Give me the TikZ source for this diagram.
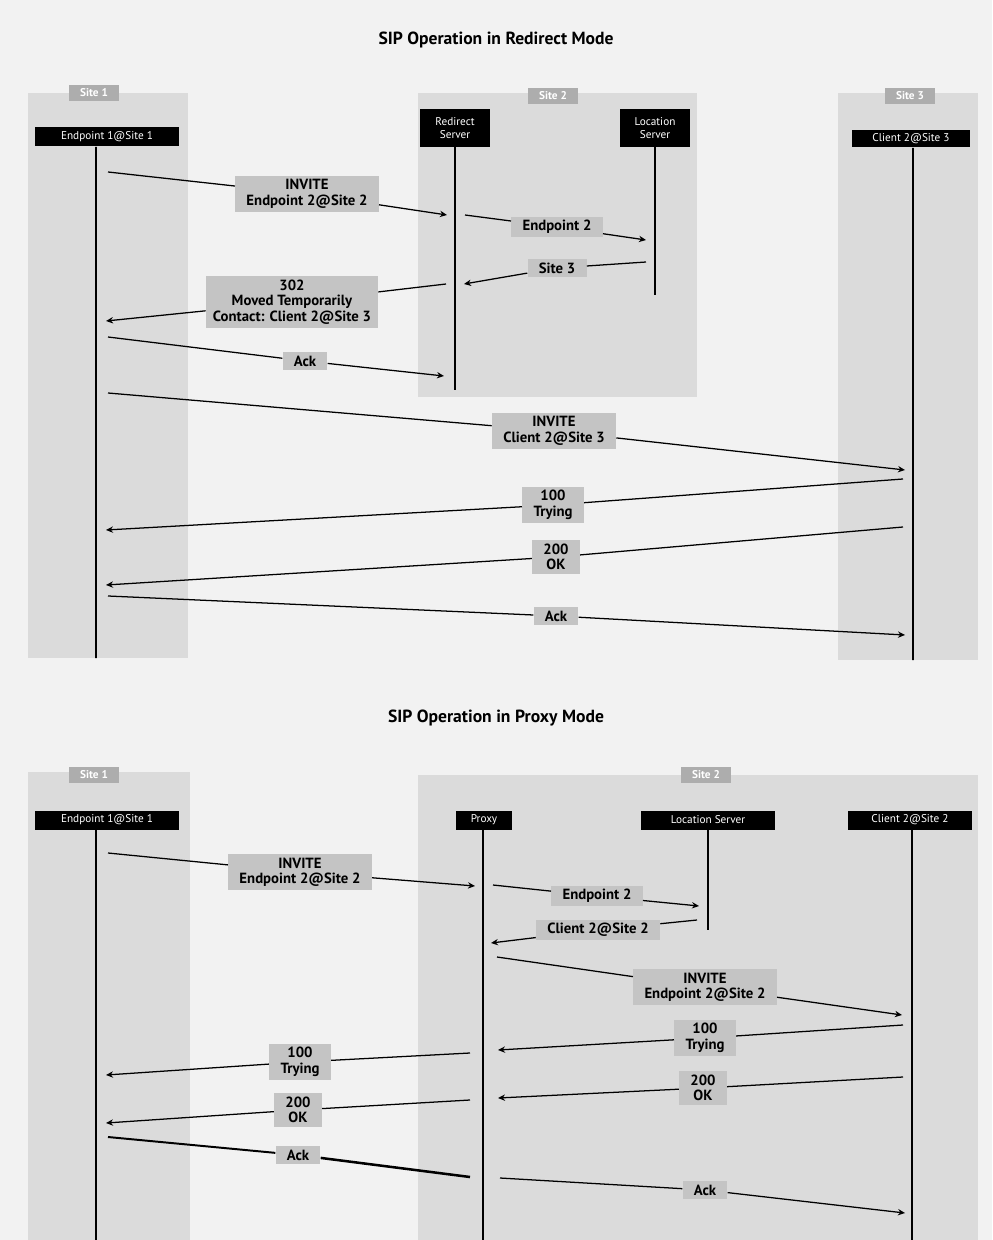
\documentclass[tikz,border=0pt]{standalone}
\usepackage{fontspec}
\setmainfont{PT Sans}
\usetikzlibrary{arrows.meta}
\definecolor{pagebg}{HTML}{F2F2F2}
\definecolor{sitebg}{HTML}{DBDBDB}
\definecolor{labelbg}{HTML}{C4C4C4}
\definecolor{tagbg}{HTML}{ADADAD}

\tikzset{
  site/.style={fill=sitebg, draw=none},
  sitetag/.style={fill=tagbg, text=white, font=\bfseries\fontsize{8}{9}\selectfont,
    minimum width=1.25cm, minimum height=0.42cm, inner sep=1pt},
  actor/.style={fill=black, text=white, font=\fontsize{8}{9}\selectfont,
    align=center, inner sep=1pt},
  life/.style={line width=1.2pt},
  msgline/.style={line width=0.9pt},
  msg/.style={line width=0.9pt, -{Stealth[length=5pt,width=4.5pt]}},
  lbl/.style={fill=labelbg, font=\bfseries\fontsize{10.5}{11}\selectfont,
    align=center, inner xsep=8pt, inner ysep=2.5pt},
  heading/.style={font=\bfseries\fontsize{12.5}{14}\selectfont}
}

\begin{document}
\begin{tikzpicture}[x=0.025cm, y=-0.025cm]
  % page
  \fill[pagebg] (0,0) rectangle (992,1240);
  \useasboundingbox (0,0) rectangle (992,1240);

  % ===================== Redirect mode =====================
  \node[heading] (t1) at (496,40) {SIP Operation in Redirect Mode};

  % site panels
  \fill[site] (28,93) rectangle (188,658);
  \fill[site] (418,93) rectangle (697,397);
  \fill[site] (838,93) rectangle (978,660);
  \node[sitetag] (s1a) at (94,93) {Site 1};
  \node[sitetag] (s2a) at (553,96) {Site 2};
  \node[sitetag] (s3a) at (910,96) {Site 3};

  % participants
  \node[actor, minimum width=3.575cm, minimum height=0.475cm] (ea) at (107,137) {Endpoint 1@Site 1};
  \node[actor, minimum width=1.75cm, minimum height=0.925cm] (rs) at (455,128) {Redirect\\Server};
  \node[actor, minimum width=1.75cm, minimum height=0.925cm] (lsa) at (655,128) {Location\\Server};
  \node[actor, minimum width=2.95cm, minimum height=0.425cm] (ca) at (911,139) {Client 2@Site 3};

  % lifelines
  \coordinate (eaend) at (96,658);
  \coordinate (rsend) at (455,390);
  \coordinate (lsaend) at (655,295);
  \coordinate (caend) at (913,660);
  \draw[life] ([xshift=-0.275cm]ea.south) -- (eaend);
  \draw[life] (rs.south) -- (rsend);
  \draw[life] (lsa.south) -- (lsaend);
  \draw[life] ([xshift=0.05cm]ca.south) -- (caend);

  % messages
  \coordinate (r1a) at (108,172); \coordinate (r1b) at (447,215);
  \node[lbl] (r1) at (307,194) {INVITE\\Endpoint 2@Site 2};
  \draw[msgline] (r1a) -- (r1); \draw[msg] (r1) -- (r1b);

  \coordinate (r2a) at (465,215); \coordinate (r2b) at (646,240);
  \node[lbl] (r2) at (557,227) {Endpoint 2};
  \draw[msgline] (r2a) -- (r2); \draw[msg] (r2) -- (r2b);

  \coordinate (r3a) at (646,262); \coordinate (r3b) at (464,284);
  \node[lbl] (r3) at (557,268) {Site 3};
  \draw[msgline] (r3a) -- (r3); \draw[msg] (r3) -- (r3b);

  \coordinate (r4a) at (446,284); \coordinate (r4b) at (106,321);
  \node[lbl, inner xsep=5pt] (r4) at (292,302) {302\\Moved Temporarily\\Contact: Client 2@Site 3};
  \draw[msgline] (r4a) -- (r4); \draw[msg] (r4) -- (r4b);

  \coordinate (r5a) at (108,337); \coordinate (r5b) at (444,376);
  \node[lbl] (r5) at (305,361) {Ack};
  \draw[msgline] (r5a) -- (r5); \draw[msg] (r5) -- (r5b);

  \coordinate (r6a) at (108,393); \coordinate (r6b) at (905,470);
  \node[lbl] (r6) at (554,431) {INVITE\\Client 2@Site 3};
  \draw[msgline] (r6a) -- (r6); \draw[msg] (r6) -- (r6b);

  \coordinate (r7a) at (903,479); \coordinate (r7b) at (106,530);
  \node[lbl] (r7) at (553,505) {100\\Trying};
  \draw[msgline] (r7a) -- (r7); \draw[msg] (r7) -- (r7b);

  \coordinate (r8a) at (903,527); \coordinate (r8b) at (106,585);
  \node[lbl] (r8) at (556,557) {200\\OK};
  \draw[msgline] (r8a) -- (r8); \draw[msg] (r8) -- (r8b);

  \coordinate (r9a) at (108,596); \coordinate (r9b) at (905,635);
  \node[lbl] (r9) at (556,616) {Ack};
  \draw[msgline] (r9a) -- (r9); \draw[msg] (r9) -- (r9b);

  % ===================== Proxy mode =====================
  \node[heading] (t2) at (496,718) {SIP Operation in Proxy Mode};

  \fill[site] (28,772) rectangle (190,1240);
  \fill[site] (418,775) rectangle (978,1240);
  \node[sitetag] (s1b) at (94,775) {Site 1};
  \node[sitetag] (s2b) at (706,775) {Site 2};

  \node[actor, minimum width=3.575cm, minimum height=0.475cm] (eb) at (107,820) {Endpoint 1@Site 1};
  \node[actor, minimum width=1.4cm, minimum height=0.475cm] (px) at (484,820) {Proxy};
  \node[actor, minimum width=3.35cm, minimum height=0.475cm] (lsb) at (708,820) {Location Server};
  \node[actor, minimum width=3.1cm, minimum height=0.475cm] (cb) at (910,820) {Client 2@Site 2};

  \coordinate (ebend) at (96,1240);
  \coordinate (pxend) at (483,1240);
  \coordinate (lsbend) at (708,930);
  \coordinate (cbend) at (912,1240);
  \draw[life] ([xshift=-0.275cm]eb.south) -- (ebend);
  \draw[life] ([xshift=-0.025cm]px.south) -- (pxend);
  \draw[life] (lsb.south) -- (lsbend);
  \draw[life] ([xshift=0.05cm]cb.south) -- (cbend);

  \coordinate (p1a) at (108,853); \coordinate (p1b) at (475,886);
  \node[lbl] (p1) at (300,872) {INVITE\\Endpoint 2@Site 2};
  \draw[msgline] (p1a) -- (p1); \draw[msg] (p1) -- (p1b);

  \coordinate (p2a) at (493,885); \coordinate (p2b) at (699,906);
  \node[lbl] (p2) at (597,896) {Endpoint 2};
  \draw[msgline] (p2a) -- (p2); \draw[msg] (p2) -- (p2b);

  \coordinate (p3a) at (697,920); \coordinate (p3b) at (491,943);
  \node[lbl] (p3) at (598,930) {Client 2@Site 2};
  \draw[msgline] (p3a) -- (p3); \draw[msg] (p3) -- (p3b);

  \coordinate (p4a) at (497,957); \coordinate (p4b) at (902,1015);
  \node[lbl] (p4) at (705,987) {INVITE\\Endpoint 2@Site 2};
  \draw[msgline] (p4a) -- (p4); \draw[msg] (p4) -- (p4b);

  \coordinate (p5a) at (903,1025); \coordinate (p5b) at (498,1050);
  \node[lbl] (p5) at (705,1038) {100\\Trying};
  \draw[msgline] (p5a) -- (p5); \draw[msg] (p5) -- (p5b);

  \coordinate (p6a) at (470,1053); \coordinate (p6b) at (106,1075);
  \node[lbl] (p6) at (300,1062) {100\\Trying};
  \draw[msgline] (p6a) -- (p6); \draw[msg] (p6) -- (p6b);

  \coordinate (p7a) at (903,1077); \coordinate (p7b) at (498,1098);
  \node[lbl] (p7) at (703,1088) {200\\OK};
  \draw[msgline] (p7a) -- (p7); \draw[msg] (p7) -- (p7b);

  \coordinate (p8a) at (470,1100); \coordinate (p8b) at (106,1123);
  \node[lbl] (p8) at (298,1110) {200\\OK};
  \draw[msgline] (p8a) -- (p8); \draw[msg] (p8) -- (p8b);

  \coordinate (p9a) at (108,1137); \coordinate (p9b) at (470,1177);
  \node[lbl] (p9) at (298,1155) {Ack};
  \draw[msgline, line width=1.4pt] (p9a) -- (p9); \draw[msgline, line width=1.8pt] (p9) -- (p9b);

  \coordinate (p10a) at (500,1178); \coordinate (p10b) at (905,1213);
  \node[lbl] (p10) at (705,1190) {Ack};
  \draw[msgline] (p10a) -- (p10); \draw[msg] (p10) -- (p10b);
\end{tikzpicture}
\end{document}
